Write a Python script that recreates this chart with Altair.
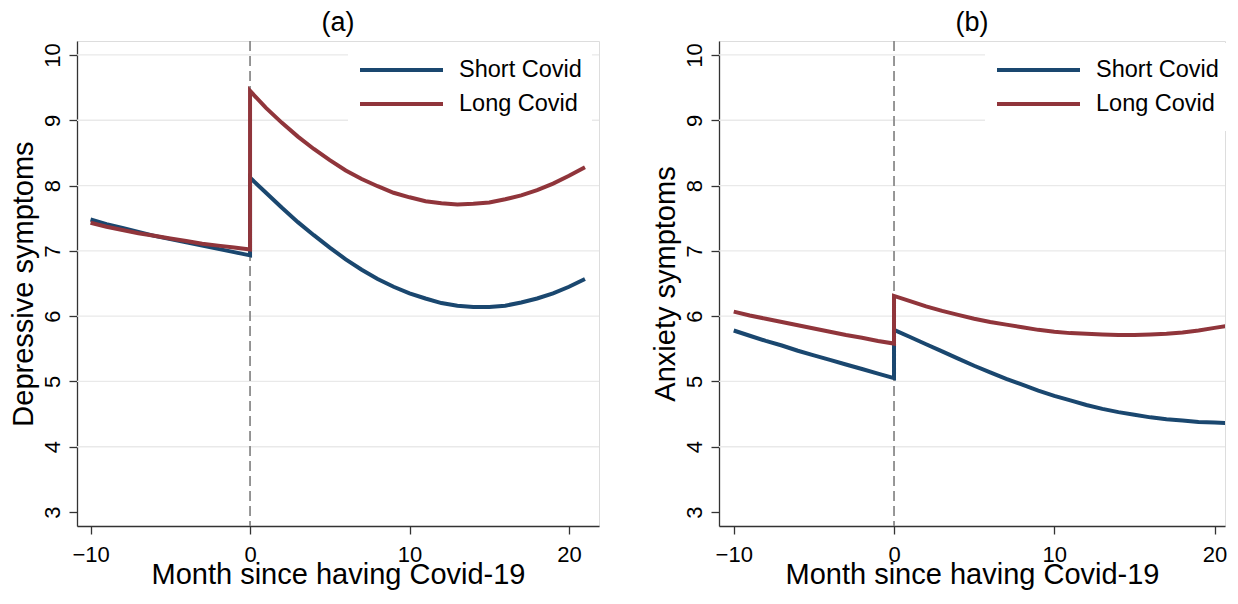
import altair as alt
import pandas as pd

FONT = "Liberation Sans"

SERIES = ["Short Covid", "Long Covid"]
COLORS = ["#1a476f", "#90353b"]

MONTHS_PRE = list(range(-10, 1))
MONTHS_POST = list(range(0, 22))

X_TICKS = [-10, 0, 10, 20]
Y_TICKS = [3, 4, 5, 6, 7, 8, 9, 10]
GRID_VALUES = [4, 5, 6, 7, 8, 9, 10]
EVENT_MONTH = [0]

# Panel (a): depressive symptoms
DEP_SHORT_PRE = [7.48, 7.41, 7.35, 7.29, 7.23, 7.18, 7.13, 7.08, 7.03, 6.98, 6.93]
DEP_SHORT_POST = [8.12, 7.89, 7.66, 7.44, 7.24, 7.05, 6.87, 6.71, 6.57, 6.45, 6.35,
                  6.27, 6.20, 6.16, 6.14, 6.14, 6.16, 6.21, 6.27, 6.35, 6.45, 6.57]
DEP_LONG_PRE = [7.43, 7.37, 7.32, 7.27, 7.23, 7.19, 7.15, 7.11, 7.08, 7.05, 7.02]
DEP_LONG_POST = [9.45, 9.19, 8.96, 8.75, 8.56, 8.39, 8.23, 8.10, 7.99, 7.89, 7.82,
                 7.76, 7.73, 7.71, 7.72, 7.74, 7.79, 7.85, 7.93, 8.03, 8.15, 8.28]

# Panel (b): anxiety symptoms
ANX_SHORT_PRE = [5.78, 5.70, 5.62, 5.55, 5.47, 5.40, 5.33, 5.26, 5.19, 5.12, 5.05]
ANX_SHORT_POST = [5.79, 5.68, 5.57, 5.46, 5.35, 5.24, 5.14, 5.04, 4.95, 4.86, 4.78,
                  4.71, 4.64, 4.58, 4.53, 4.49, 4.45, 4.42, 4.40, 4.38, 4.37, 4.36]
ANX_LONG_PRE = [6.07, 6.01, 5.96, 5.91, 5.86, 5.81, 5.76, 5.71, 5.67, 5.62, 5.58]
ANX_LONG_POST = [6.31, 6.23, 6.15, 6.08, 6.02, 5.96, 5.91, 5.87, 5.83, 5.79, 5.76,
                 5.74, 5.73, 5.72, 5.71, 5.71, 5.72, 5.73, 5.75, 5.78, 5.82, 5.86]


def build(short_pre, short_post, long_pre, long_post):
    rows = []
    for name, pre, post in [("Short Covid", short_pre, short_post),
                            ("Long Covid", long_pre, long_post)]:
        i = 0
        for t, v in zip(MONTHS_PRE, pre):
            rows.append({"series": name, "t": t, "v": v, "idx": i})
            i += 1
        for t, v in zip(MONTHS_POST, post):
            rows.append({"series": name, "t": t, "v": v, "idx": i})
            i += 1
    return pd.DataFrame(rows)


def panel(df, title, ytitle, xdomain, width, legend_x, clip):
    xaxis = alt.Axis(values=X_TICKS, title="Month since having Covid-19", grid=False,
                     labelFontSize=22, labelFont=FONT, labelColor="black", labelPadding=10,
                     titleFontSize=29, titleFont=FONT, titleFontWeight="normal",
                     titleColor="black", titlePadding=-5, tickSize=8, tickColor="#333",
                     tickWidth=1.3, domainColor="#333", domainWidth=1.3,
                     labelFlush=False, labelOverlap=False)
    yaxis = alt.Axis(values=Y_TICKS, title=ytitle, grid=False, labelAngle=270,
                     labelAlign="center", labelBaseline="bottom",
                     labelFontSize=22, labelFont=FONT, labelColor="black", labelPadding=5,
                     titleFontSize=29, titleFont=FONT, titleFontWeight="normal",
                     titleColor="black", titlePadding=3, tickSize=8, tickColor="#333",
                     tickWidth=1.3, domainColor="#333", domainWidth=1.3,
                     labelOverlap=False)
    xs = alt.Scale(domain=xdomain, nice=False, zero=False)
    ys = alt.Scale(domain=[2.786, 10.214], nice=False, zero=False)
    X = alt.X("t:Q", scale=xs, axis=xaxis)
    Y = alt.Y("v:Q", scale=ys, axis=yaxis)

    grid = alt.Chart(pd.DataFrame({"v": GRID_VALUES})).mark_rule(
        color="#e9e9e9", strokeWidth=1.3).encode(y=Y)
    vline = alt.Chart(pd.DataFrame({"t": EVENT_MONTH})).mark_rule(
        color="#8c8c8c", strokeWidth=1.8, strokeDash=[10, 5]).encode(x=X)

    legend = alt.Legend(title=None, orient="none", legendX=legend_x, legendY=2,
                        symbolType="M-1,0H1", symbolSize=6889, symbolStrokeWidth=4,
                        clipHeight=34, rowPadding=0, labelFontSize=23.5, labelFont=FONT,
                        labelColor="black", labelOffset=14, labelLimit=400,
                        padding=10, fillColor="white")
    color = alt.Color("series:N", scale=alt.Scale(domain=SERIES, range=COLORS),
                      legend=legend)

    base = alt.Chart(df).mark_line(strokeWidth=4, strokeJoin="miter", strokeCap="butt",
                                   clip=clip)
    short = base.transform_filter(alt.datum.series == "Short Covid").encode(
        x=X, y=Y, color=color, order=alt.Order("idx:Q"))
    long_ = base.transform_filter(alt.datum.series == "Long Covid").encode(
        x=X, y=Y, color=color, order=alt.Order("idx:Q"))

    return alt.layer(grid, vline, short, long_).properties(
        width=width, height=485,
        title=alt.TitleParams(text=title, fontSize=27, font=FONT, fontWeight="normal",
                              color="black", frame="group", anchor="middle",
                              baseline="alphabetic", offset=-18))


dep = build(DEP_SHORT_PRE, DEP_SHORT_POST, DEP_LONG_PRE, DEP_LONG_POST)
anx = build(ANX_SHORT_PRE, ANX_SHORT_POST, ANX_LONG_PRE, ANX_LONG_POST)

pa = panel(dep, "(a)", "Depressive symptoms", [-10.85, 21.88], 522, 271, False)
pb = panel(anx, "(b)", "Anxiety symptoms", [-10.92, 20.65], 506, 266, True)

chart = alt.hconcat(pa, pb, spacing=49).resolve_scale(color="independent").resolve_legend(
    color="independent").configure_view(stroke=None).configure(
    padding={"left": 0, "top": 0, "right": 0, "bottom": 0}, background="white")

chart.save("out.html", embed_options={"renderer": "svg", "actions": False})
